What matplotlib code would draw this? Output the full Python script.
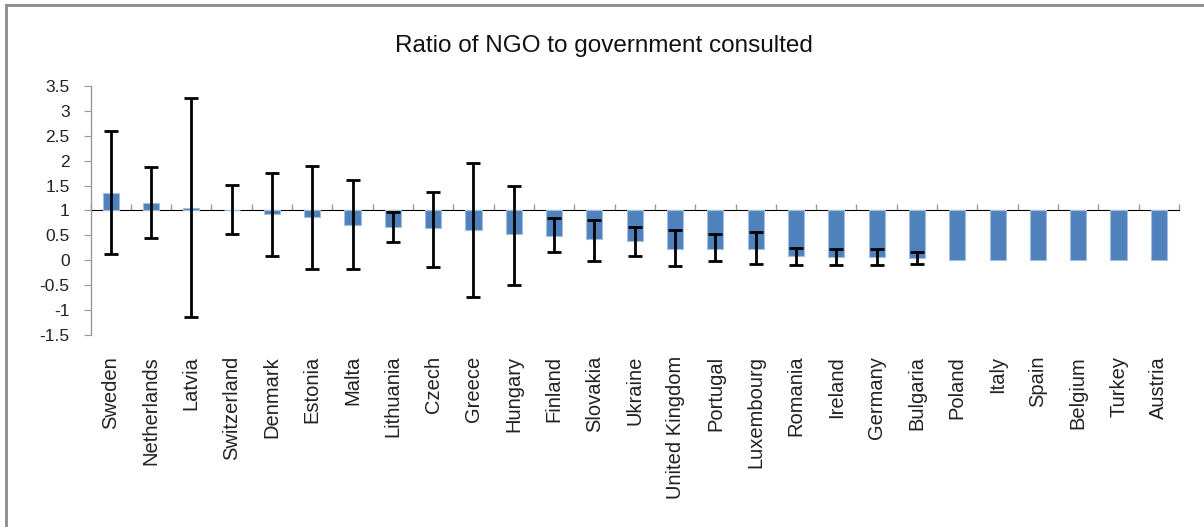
import numpy as np
import matplotlib.pyplot as plt
from matplotlib.lines import Line2D

plt.rcParams['font.family'] = ['Liberation Sans', 'DejaVu Sans']

countries = ['Sweden', 'Netherlands', 'Latvia', 'Switzerland', 'Denmark', 'Estonia',
             'Malta', 'Lithuania', 'Czech', 'Greece', 'Hungary', 'Finland', 'Slovakia',
             'Ukraine', 'United Kingdom', 'Portugal', 'Luxembourg', 'Romania', 'Ireland',
             'Germany', 'Bulgaria', 'Poland', 'Italy', 'Spain', 'Belgium', 'Turkey', 'Austria']
ratio = [1.36, 1.16, 1.06, 1.0, 0.93, 0.87, 0.71, 0.66, 0.64, 0.61, 0.52, 0.49, 0.42,
         0.39, 0.23, 0.23, 0.23, 0.09, 0.07, 0.07, 0.04, 0.0, 0.0, 0.0, 0.0, 0.0, 0.0]
# upper / lower ends of the error bars (None = no bar)
err_hi = [2.59, 1.87, 3.26, 1.51, 1.75, 1.90, 1.61, 0.97, 1.38, 1.95, 1.50, 0.84, 0.81,
          0.66, 0.61, 0.52, 0.56, 0.25, 0.22, 0.22, 0.17, None, None, None, None, None, None]
err_lo = [0.12, 0.44, -1.13, 0.52, 0.09, -0.18, -0.18, 0.36, -0.13, -0.73, -0.50, 0.16, -0.01,
          0.09, -0.11, -0.01, -0.08, -0.09, -0.09, -0.09, -0.07, None, None, None, None, None, None]

n = len(countries)
x = np.arange(n)
vals = np.array(ratio)
base = 1.0

fig = plt.figure(figsize=(12.04, 5.27), dpi=100)
ax = fig.add_axes([90.5 / 1204, 1 - 335 / 527, (1179 - 90.5) / 1204, (335 - 86) / 527])

ax.bar(x, vals - base, bottom=base, width=0.4, color='#4F81BD',
       edgecolor='#A7BFDE', linewidth=0.8, zorder=2)

for i in range(n):
    if err_hi[i] is None:
        continue
    lo, hi = err_lo[i], err_hi[i]
    ax.errorbar([x[i]], [(lo + hi) / 2], yerr=[[(hi - lo) / 2], [(hi - lo) / 2]],
                fmt='none', ecolor='black', elinewidth=2, capsize=5, capthick=2, zorder=3)

ax.set_xlim(-0.5, n - 0.5)
ax.set_ylim(-1.5, 3.5)
ax.set_yticks(np.arange(-1.5, 3.6, 0.5))
ax.set_yticklabels(['-1.5', '-1', '-0.5', '0', '0.5', '1', '1.5', '2', '2.5', '3', '3.5'])
ax.tick_params(axis='y', direction='out', length=5, color='#999999', labelsize=12.5,
               labelcolor='#222222', pad=10)

for s in ['top', 'right', 'bottom']:
    ax.spines[s].set_visible(False)
ax.spines['left'].set_color('#999999')
ax.spines['left'].set_linewidth(1)

ax.set_xticks(x)
ax.set_xticklabels(countries, rotation=90, fontsize=14.5, color='#222222', va='top')
ax.tick_params(axis='x', length=0, pad=15)

# category axis crossing at 1
sec = ax.secondary_xaxis((base + 1.5) / 5.0)
sec.set_xticks(np.arange(-0.5, n, 1.0))
sec.set_xticklabels([])
sec.tick_params(direction='out', length=4, color='#999999', width=1)
sec.spines['bottom'].set_color('#999999')
sec.spines['bottom'].set_linewidth(1.5)
sec.spines['bottom'].set_zorder(1)

fig.suptitle('Ratio of NGO to government consulted', x=604 / 1204, y=1 - 35 / 527,
             fontsize=17.5, color='#111111', va='top')

# chart frame
fig.add_artist(Line2D([6 / 1204, 1], [1 - 5 / 527, 1 - 5 / 527], color='#8c8c8c', lw=2))
fig.add_artist(Line2D([6 / 1204, 6 / 1204], [0, 1 - 5 / 527], color='#8c8c8c', lw=2))

fig.savefig('out.png', dpi=100)
